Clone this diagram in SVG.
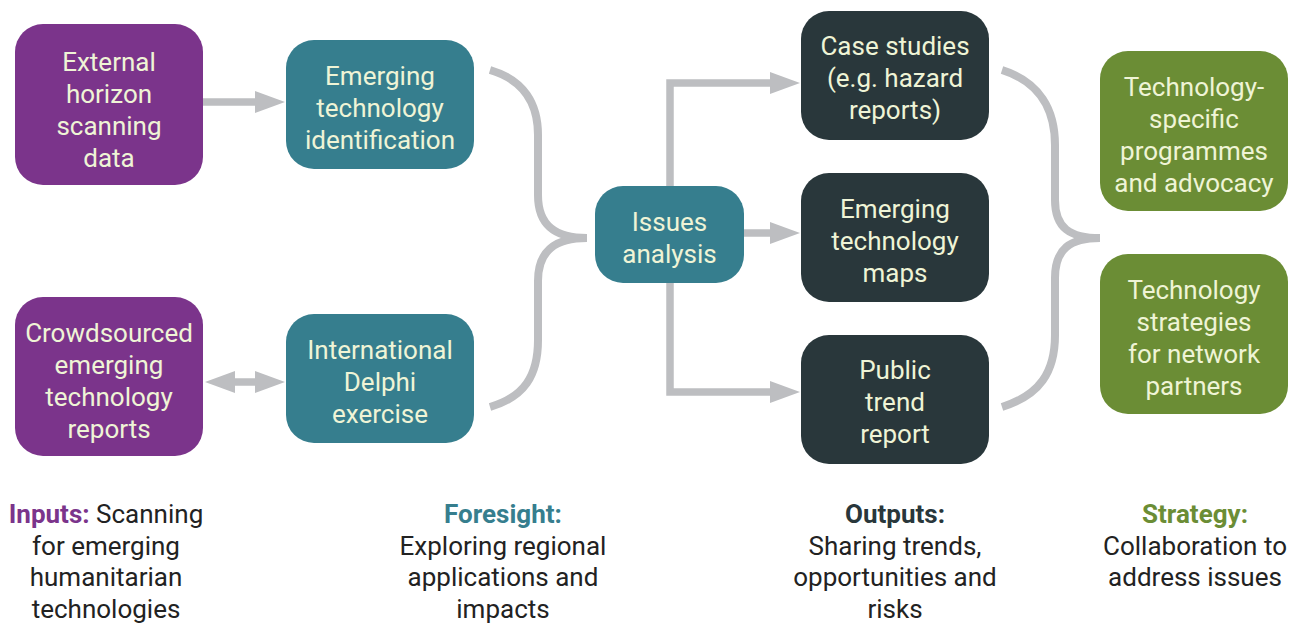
<svg xmlns="http://www.w3.org/2000/svg" width="1297" height="623" viewBox="0 0 1297 623">
  <style>
    .box { stroke: none; }
    .inputs { fill: #7B348B; }
    .foresight { fill: #367E8E; }
    .outputs { fill: #29373B; }
    .strategy { fill: #6B8D35; }
    .label { font-family: Roboto, "Liberation Sans", sans-serif; font-size: 26px; fill: #EFF4D6; text-anchor: middle; }
    .caption { font-family: Roboto, "Liberation Sans", sans-serif; font-size: 26px; fill: #222222; text-anchor: middle; }
    .caption.head, .caption .head { font-weight: bold; }
    .caption .inputs, .caption.inputs { fill: #7B348B; }
    .caption.foresight { fill: #367E8E; }
    .caption.outputs { fill: #29373B; }
    .caption.strategy { fill: #6B8D35; }
    .conn { fill: none; stroke: #BDBEC1; stroke-width: 7.5; }
    .brace { fill: none; stroke: #BDBEC1; stroke-width: 8; }
  </style>
  <defs>
    <marker id="head" viewBox="0 0 30 22" refX="2" refY="11" markerWidth="30" markerHeight="22" markerUnits="userSpaceOnUse" orient="auto-start-reverse">
      <path d="M0,0 L30,11 L0,22 Z" fill="#BDBEC1"/>
    </marker>
  </defs>

  <rect width="1297" height="623" fill="#FFFFFF"/>

  <!-- connectors and braces -->
  <g id="connectors">
    <line class="conn" x1="203" y1="102" x2="257" y2="102" marker-end="url(#head)"/>
    <line class="conn" x1="233" y1="382" x2="257" y2="382" marker-start="url(#head)" marker-end="url(#head)"/>
    <path class="brace" d="M490,70 C524,80 538,104 538,135 V195 C538,226 556,238 587,238 M587,238 C556,238 538,250 538,281 V340 C538,376 524,397 490,407"/>
    <path class="conn" d="M670,186 V83 H772" marker-end="url(#head)"/>
    <line class="conn" x1="744" y1="233" x2="772" y2="233" marker-end="url(#head)"/>
    <path class="conn" d="M670,283 V392 H772" marker-end="url(#head)"/>
    <path class="brace" d="M1002,70 C1040,82 1055,110 1055,145 V200 C1055,228 1070,238 1100,238 M1100,238 C1070,238 1055,249 1055,278 V335 C1055,372 1040,395 1002,407"/>
  </g>

  <!-- inputs -->
  <g id="external-scanning">
    <rect class="box inputs" x="15" y="24" width="188" height="161" rx="28"/>
    <text class="label" x="109" y="71">External</text>
    <text class="label" x="109" y="103">horizon</text>
    <text class="label" x="109" y="135">scanning</text>
    <text class="label" x="109" y="167">data</text>
  </g>
  <g id="crowdsourced-reports">
    <rect class="box inputs" x="15" y="297" width="188" height="159" rx="28"/>
    <text class="label" x="109" y="342">Crowdsourced</text>
    <text class="label" x="109" y="374">emerging</text>
    <text class="label" x="109" y="406">technology</text>
    <text class="label" x="109" y="438">reports</text>
  </g>

  <!-- foresight -->
  <g id="tech-identification">
    <rect class="box foresight" x="286" y="40" width="188" height="129" rx="28"/>
    <text class="label" x="380" y="85">Emerging</text>
    <text class="label" x="380" y="117">technology</text>
    <text class="label" x="380" y="149">identification</text>
  </g>
  <g id="delphi-exercise">
    <rect class="box foresight" x="286" y="314" width="188" height="129" rx="28"/>
    <text class="label" x="380" y="359">International</text>
    <text class="label" x="380" y="391">Delphi</text>
    <text class="label" x="380" y="423">exercise</text>
  </g>
  <g id="issues-analysis">
    <rect class="box foresight" x="595" y="186" width="149" height="97" rx="28"/>
    <text class="label" x="669.5" y="231">Issues</text>
    <text class="label" x="669.5" y="263">analysis</text>
  </g>

  <!-- outputs -->
  <g id="case-studies">
    <rect class="box outputs" x="801" y="11" width="188" height="129" rx="28"/>
    <text class="label" x="895" y="55">Case studies</text>
    <text class="label" x="895" y="87">(e.g. hazard</text>
    <text class="label" x="895" y="119">reports)</text>
  </g>
  <g id="tech-maps">
    <rect class="box outputs" x="801" y="173" width="188" height="129" rx="28"/>
    <text class="label" x="895" y="218">Emerging</text>
    <text class="label" x="895" y="250">technology</text>
    <text class="label" x="895" y="282">maps</text>
  </g>
  <g id="trend-report">
    <rect class="box outputs" x="801" y="335" width="188" height="129" rx="28"/>
    <text class="label" x="895" y="379">Public</text>
    <text class="label" x="895" y="411">trend</text>
    <text class="label" x="895" y="443">report</text>
  </g>

  <!-- strategy -->
  <g id="specific-programmes">
    <rect class="box strategy" x="1100" y="51" width="188" height="160" rx="28"/>
    <text class="label" x="1194" y="96">Technology-</text>
    <text class="label" x="1194" y="128">specific</text>
    <text class="label" x="1194" y="160">programmes</text>
    <text class="label" x="1194" y="192">and advocacy</text>
  </g>
  <g id="partner-strategies">
    <rect class="box strategy" x="1100" y="254" width="188" height="160" rx="28"/>
    <text class="label" x="1194" y="299">Technology</text>
    <text class="label" x="1194" y="331">strategies</text>
    <text class="label" x="1194" y="363">for network</text>
    <text class="label" x="1194" y="395">partners</text>
  </g>

  <!-- column captions -->
  <g id="captions">
    <text class="caption" x="106" y="523"><tspan class="head inputs">Inputs:</tspan> Scanning</text>
    <text class="caption" x="106" y="555">for emerging</text>
    <text class="caption" x="106" y="586">humanitarian</text>
    <text class="caption" x="106" y="618">technologies</text>

    <text class="caption head foresight" x="503" y="523">Foresight:</text>
    <text class="caption" x="503" y="555">Exploring regional</text>
    <text class="caption" x="503" y="586">applications and</text>
    <text class="caption" x="503" y="618">impacts</text>

    <text class="caption head outputs" x="895" y="523">Outputs:</text>
    <text class="caption" x="895" y="555">Sharing trends,</text>
    <text class="caption" x="895" y="586">opportunities and</text>
    <text class="caption" x="895" y="618">risks</text>

    <text class="caption head strategy" x="1195" y="523">Strategy:</text>
    <text class="caption" x="1195" y="555">Collaboration to</text>
    <text class="caption" x="1195" y="586">address issues</text>
  </g>
</svg>
